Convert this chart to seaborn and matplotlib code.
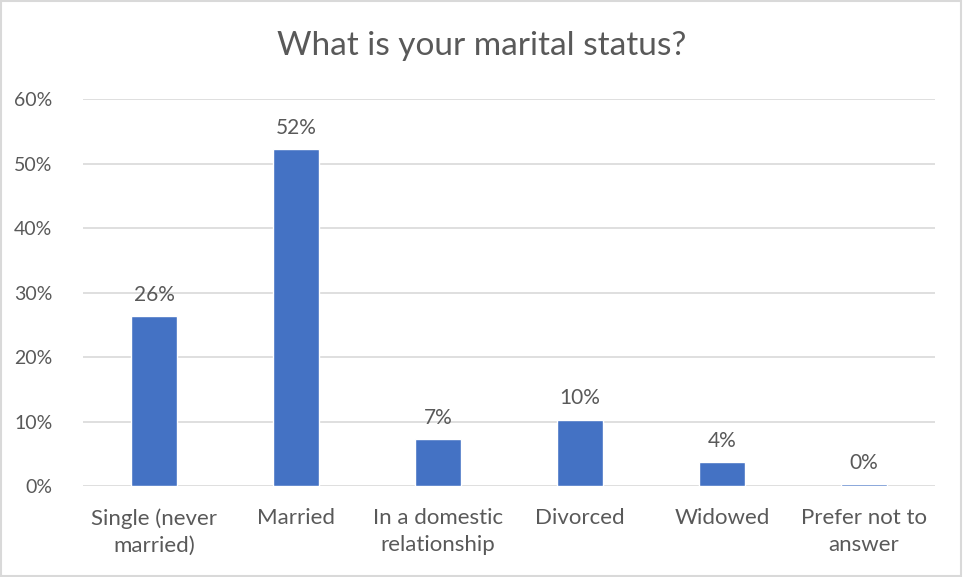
import matplotlib
matplotlib.use("Agg")
import matplotlib.pyplot as plt
import seaborn as sns
import pandas as pd
from matplotlib.patches import Rectangle
from matplotlib.ticker import PercentFormatter

categories = ["Single (never\nmarried)", "Married", "In a domestic\nrelationship",
              "Divorced", "Widowed", "Prefer not to\nanswer"]
shares = [0.264, 0.523, 0.073, 0.103, 0.037, 0.003]
y_ticks = [0.0, 0.1, 0.2, 0.3, 0.4, 0.5, 0.6]

df = pd.DataFrame({"status": categories, "share": shares})

sns.set_theme(style="white")
plt.rcParams["font.family"] = ["Lato", "DejaVu Sans"]
text_color = "#595959"

fig = plt.figure(figsize=(9.63, 5.77), dpi=100)
ax = fig.add_axes([0.0862, 0.1577, 0.8848, 0.6707])

sns.barplot(data=df, x="status", y="share", color="#4472C4", width=0.32,
            saturation=1, ax=ax)

ax.set_ylim(0, 0.6)
ax.set_yticks(y_ticks)
ax.yaxis.set_major_formatter(PercentFormatter(1.0, decimals=0))
ax.grid(axis="y", color="#D9D9D9", linewidth=1.2)
ax.set_axisbelow(True)
for s in ax.spines.values():
    s.set_visible(False)
ax.set_xlabel("")
ax.set_ylabel("")
ax.tick_params(axis="both", length=0, labelcolor=text_color)
ax.tick_params(axis="y", pad=22, labelsize=14)
ax.tick_params(axis="x", pad=16, labelsize=16)
for lbl in ax.get_xticklabels():
    lbl.set_linespacing(1.45)

ax.bar_label(ax.containers[0], labels=[f"{v*100:.0f}%" for v in shares],
             padding=8, fontsize=15, color=text_color)

fig.text(0.5, 0.921, "What is your marital status?", ha="center", va="center",
         fontsize=24, color=text_color)

fig.patches.append(Rectangle((0.001, 0.002), 0.997, 0.996, transform=fig.transFigure,
                             fill=False, edgecolor="#D9D9D9", linewidth=1.5))

fig.savefig("out.png", dpi=100)
